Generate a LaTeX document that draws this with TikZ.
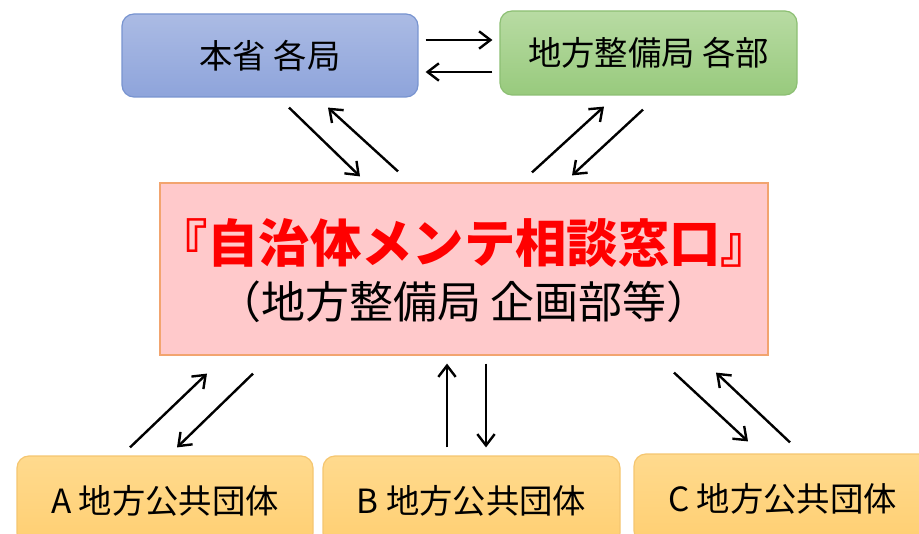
\documentclass[tikz,border=0pt]{standalone}
\usepackage{fontspec}
\setmainfont{Noto Sans CJK JP}
\usepackage{xcolor}
\usetikzlibrary{arrows.meta,calc}

\definecolor{honshoTop}{HTML}{ABBBE4}
\definecolor{honshoBot}{HTML}{8EA4DB}
\definecolor{honshoLine}{HTML}{7894D0}
\definecolor{seibiTop}{HTML}{B8DBA3}
\definecolor{seibiBot}{HTML}{98CA7D}
\definecolor{seibiLine}{HTML}{8CBF73}
\definecolor{madoFill}{HTML}{FFC9CB}
\definecolor{madoLine}{HTML}{F2A46F}
\definecolor{jichiTop}{HTML}{FFDA8E}
\definecolor{jichiBot}{HTML}{FFCF72}
\definecolor{jichiLine}{HTML}{F5C670}
\definecolor{titleRed}{HTML}{FF0000}

\tikzset{
  rbox/.style={draw, rounded corners=9pt, line width=0.9pt, font=\fontsize{25}{29}\selectfont},
  link/.style={line width=1.8pt, -{Straight Barb[length=8.5pt,width=13pt]}}
}

\begin{document}
\begin{tikzpicture}[x=0.75pt,y=0.75pt,yscale=-1,xscale=1]

\useasboundingbox (0,0) rectangle (919,534);
\clip (0,0) rectangle (919,534);

% top boxes
\node [rbox, draw=honshoLine, top color=honshoTop, bottom color=honshoBot,
  minimum width=222pt, minimum height=62.25pt] (honsho) at (270,55.5) {本省 各局};
\node [rbox, draw=seibiLine, top color=seibiTop, bottom color=seibiBot,
  minimum width=222.75pt, minimum height=63pt] (seibi) at (648.5,53) {地方整備局 各部};

% consultation desk
\node [draw=madoLine, fill=madoFill, line width=0.9pt,
  minimum width=456pt, minimum height=129pt] (madoguchi) at (464,269) {};
\node [text=titleRed, font=\fontsize{38.5}{42}\selectfont\bfseries] (title) at (464,243) {『自治体メンテ相談窓口』};
\node [font=\fontsize{33}{36}\selectfont] (sub) at (464,302) {（地方整備局 企画部等）};

% bottom boxes
\node [rbox, draw=jichiLine, top color=jichiTop, bottom color=jichiBot,
  minimum width=222pt, minimum height=66.75pt] (jichiA) at (165,500.5) {A 地方公共団体};
\node [rbox, draw=jichiLine, top color=jichiTop, bottom color=jichiBot,
  minimum width=222.75pt, minimum height=66.75pt] (jichiB) at (471.5,500.5) {B 地方公共団体};
\node [rbox, draw=jichiLine, top color=jichiTop, bottom color=jichiBot,
  minimum width=222.75pt, minimum height=66.75pt] (jichiC) at (782.5,498.5) {C 地方公共団体};

% arrows
\draw [link] ($(honsho.east)+(7,-15.5)$) -- ($(seibi.west)+(-7,-13)$);
\draw [link] ($(seibi.west)+(-7,19)$) -- ($(honsho.east)+(7,16.5)$);

\draw [link] ($(honsho.south)+(19,10)$) -- ($(madoguchi.north)+(-104,-6)$);
\draw [link] ($(madoguchi.north)+(-66,-11)$) -- ($(honsho.south)+(58,10)$);

\draw [link] ($(madoguchi.north)+(68,-10)$) -- ($(seibi.south)+(-44.5,11)$);
\draw [link] ($(seibi.south)+(-5.5,14)$) -- ($(madoguchi.north)+(108,-7)$);

\draw [link] ($(jichiA.north)+(-35,-8)$) -- ($(madoguchi.south)+(-257,18)$);
\draw [link] ($(madoguchi.south)+(-211,18)$) -- ($(jichiA.north)+(12,-8)$);

\draw [link] ($(jichiB.north)+(-24.5,-8)$) -- ($(madoguchi.south)+(-17,8)$);
\draw [link] ($(madoguchi.south)+(22,8)$) -- ($(jichiB.north)+(14.5,-8)$);

\draw [link] ($(madoguchi.south)+(210,17)$) -- ($(jichiC.north)+(-34.5,-12)$);
\draw [link] ($(jichiC.north)+(7.5,-11)$) -- ($(madoguchi.south)+(252,17)$);

\end{tikzpicture}
\end{document}
